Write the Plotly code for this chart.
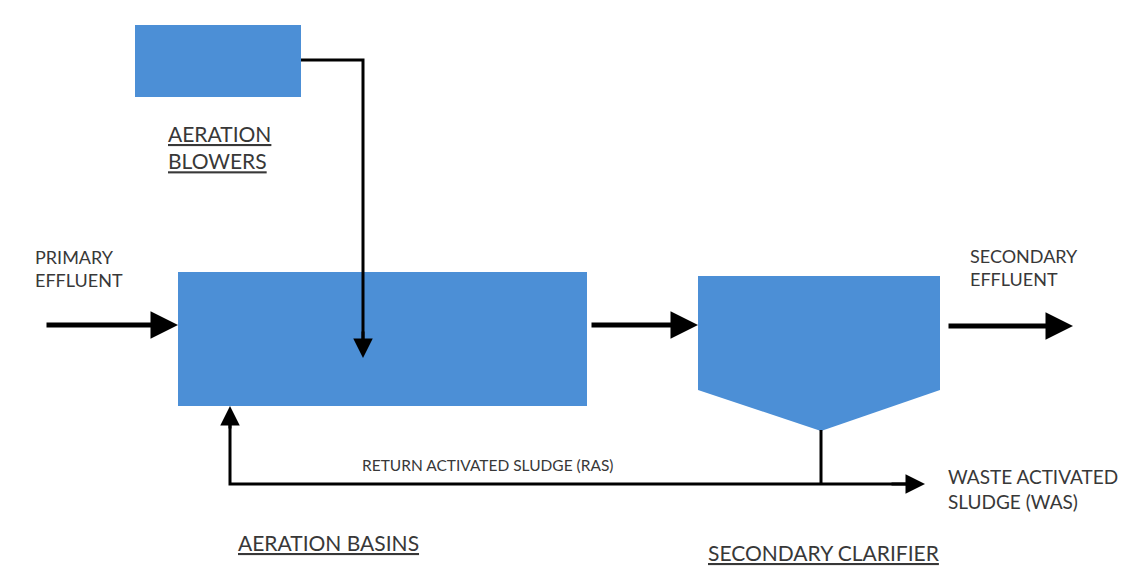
import plotly.graph_objects as go

# Diagram content
stage_names = ["AERATION BLOWERS", "AERATION BASINS", "SECONDARY CLARIFIER"]
flow_labels = ["PRIMARY<br>EFFLUENT", "SECONDARY<br>EFFLUENT",
               "RETURN ACTIVATED SLUDGE (RAS)", "WASTE ACTIVATED<br>SLUDGE (WAS)"]

W, H = 1143, 568
BLUE = "#4C8FD6"
TXT = "#383838"
FONT = "Lato, 'Open Sans', sans-serif"

fig = go.Figure()
fig.update_layout(
    width=W, height=H, margin=dict(l=0, r=0, t=0, b=0),
    paper_bgcolor="white", plot_bgcolor="white", showlegend=False,
    xaxis=dict(range=[0, W], visible=False, fixedrange=True),
    yaxis=dict(range=[H, 0], visible=False, fixedrange=True),
)

shapes = []
# blowers box
shapes.append(dict(type="rect", x0=135, x1=301, y0=25, y1=97, fillcolor=BLUE, line=dict(width=0)))
# aeration basin
shapes.append(dict(type="rect", x0=178, x1=587, y0=272, y1=406, fillcolor=BLUE, line=dict(width=0)))
# clarifier pentagon
shapes.append(dict(type="path", path="M 698 276 L 940 276 L 940 390 L 821 431 L 698 390 Z",
                   fillcolor=BLUE, line=dict(width=0)))
# air line
shapes.append(dict(type="path", path="M 301 60 L 363 60 L 363 345", line=dict(color="black", width=3)))
# clarifier drain
shapes.append(dict(type="line", x0=821, x1=821, y0=430, y1=484, line=dict(color="black", width=3)))
# RAS line (vertical part + horizontal)
shapes.append(dict(type="path", path="M 230 418 L 230 484 L 910 484", line=dict(color="black", width=3)))
fig.update_layout(shapes=shapes)

def arrow(x0, y0, x1, y1, w, size):
    fig.add_annotation(x=x1, y=y1, ax=x0, ay=y0, xref="x", yref="y", axref="x", ayref="y",
                       showarrow=True, arrowhead=2, arrowwidth=w, arrowsize=size,
                       arrowcolor="black", text="")

arrow(45, 325, 178, 325, 5, 1.1)
arrow(590, 325, 698, 325, 5, 1.1)
arrow(947, 326, 1073, 326, 5, 1.1)
arrow(363, 330, 363, 358, 3, 1.3)
arrow(230, 430, 230, 406, 3, 1.3)
arrow(890, 484, 925, 484, 3, 1.3)

def label(x, y, text, size=16, anchor="left"):
    fig.add_annotation(x=x, y=y, xref="x", yref="y", text=text, showarrow=False,
                       xanchor=anchor, yanchor="middle", align="left",
                       font=dict(family=FONT, size=size, color=TXT))

label(166, 147, "<u>AERATION</u><br><u>BLOWERS</u>", 21)
label(236, 542, "<u>" + stage_names[1] + "</u>", 21)
label(706, 552, "<u>" + stage_names[2] + "</u>", 21)
label(33, 268, flow_labels[0], 18)
label(968, 267, flow_labels[1], 18)
label(360, 465, flow_labels[2], 15.5)
label(946, 489, flow_labels[3], 19)

fig.write_html("out.html", config={"displayModeBar": False},
               post_script="document.body.style.margin='0';document.body.style.overflow='hidden';")
